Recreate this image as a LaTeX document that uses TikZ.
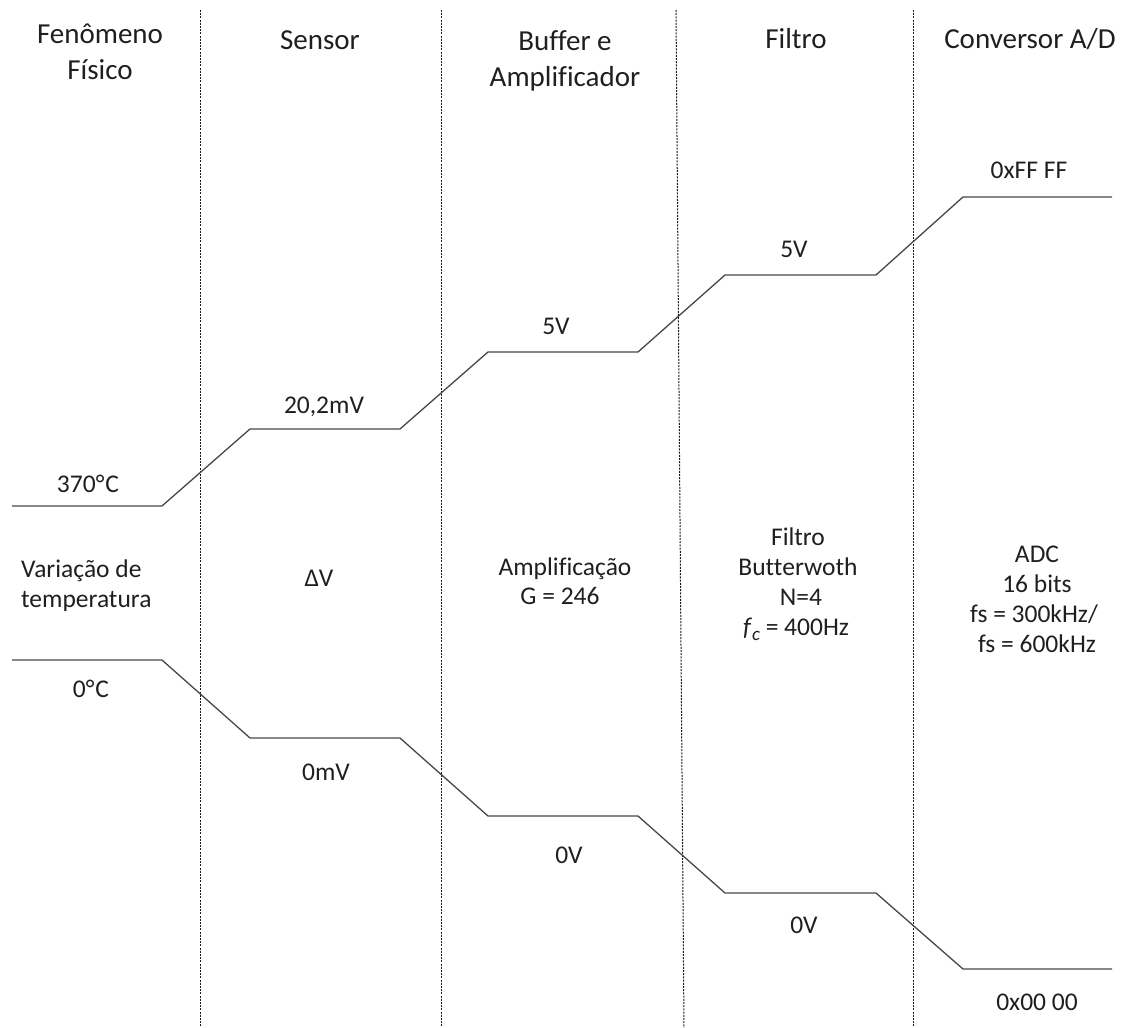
\documentclass[tikz,border=0pt]{standalone}
\usepackage{fontspec}
\setmainfont{Carlito}[Ligatures={TeX,NoCommon},Contextuals=NoAlternate]
\begin{document}
\begin{tikzpicture}[x=1pt,y=-1pt,
  stagesep/.style={draw=black!90,line width=1pt,dash pattern=on 2pt off 1.2pt},
  signal/.style={draw=black!72,line width=1.3pt,line join=miter},
  head/.style={anchor=base,inner sep=0pt,text=black!88,font=\fontsize{29}{36}\selectfont},
  lbl/.style={anchor=base,inner sep=0pt,text=black!88,font=\fontsize{25.5}{30}\selectfont},
  lbll/.style={lbl,anchor=base west}]
\useasboundingbox (0,0) rectangle (1128,1028);

% stage separators
\coordinate (s1t) at (200,10);  \coordinate (s1b) at (200,1028);
\coordinate (s2t) at (441,10);  \coordinate (s2b) at (441,1028);
\coordinate (s3t) at (676,10);  \coordinate (s3b) at (684,1028);
\coordinate (s4t) at (913,10);  \coordinate (s4b) at (913,1028);
\draw[stagesep] (s1t) -- (s1b);
\draw[stagesep] (s2t) -- (s2b);
\draw[stagesep] (s3t) -- (s3b);
\draw[stagesep] (s4t) -- (s4b);

% stage titles
\node[head] (h1a) at (100,43) {Fenômeno};
\node[head] (h1b) at (100,79) {Físico};
\node[head] (h2)  at (320,49) {Sensor};
\node[head] (h3a) at (565,50) {Buffer e};
\node[head] (h3b) at (565,86) {Amplificador};
\node[head] (h4)  at (796,48) {Filtro};
\node[head] (h5)  at (1030,48) {Conversor A/D};

% upper level of the signal
\coordinate (u0) at (12,506);   \coordinate (u1) at (162,506);
\coordinate (u2) at (250,429);  \coordinate (u3) at (400,429);
\coordinate (u4) at (488,352);  \coordinate (u5) at (638,352);
\coordinate (u6) at (725,275);  \coordinate (u7) at (876,275);
\coordinate (u8) at (963,197);  \coordinate (u9) at (1112,197);
\draw[signal] (u0) -- (u1) -- (u2) -- (u3) -- (u4) -- (u5) -- (u6) -- (u7) -- (u8) -- (u9);

% lower level of the signal
\coordinate (l0) at (12,660);   \coordinate (l1) at (162,660);
\coordinate (l2) at (250,738);  \coordinate (l3) at (400,738);
\coordinate (l4) at (488,816);  \coordinate (l5) at (638,816);
\coordinate (l6) at (725,893);  \coordinate (l7) at (876,893);
\coordinate (l8) at (963,969);  \coordinate (l9) at (1112,969);
\draw[signal] (l0) -- (l1) -- (l2) -- (l3) -- (l4) -- (l5) -- (l6) -- (l7) -- (l8) -- (l9);

% upper values
\node[lbl] (v1) at (88,492)   {370°\kern1pt C};
\node[lbl] (v2) at (324,413)  {20,2mV};
\node[lbl] (v3) at (556,334)  {5V};
\node[lbl] (v4) at (794,257)  {5V};
\node[lbl] (v5) at (1029,178) {0xFF FF};

% lower values
\node[lbl] (w1) at (91,697)   {0°\kern1pt C};
\node[lbl] (w2) at (326,780)  {0mV};
\node[lbl] (w3) at (569,863)  {0V};
\node[lbl] (w4) at (804,933)  {0V};
\node[lbl] (w5) at (1037,1010){0x00 00};

% stage descriptions
\node[lbll] (d1a) at (21,577) {Variação de};
\node[lbll] (d1b) at (21,607) {temperatura};
\node[lbl]  (d2)  at (319,586) {ΔV};
\node[lbl]  (d3a) at (565,575) {Amplificação};
\node[lbl]  (d3b) at (560,604) {G = 246};
\node[lbl]  (d4a) at (798,545) {Filtro};
\node[lbl]  (d4b) at (798,575) {Butt\kern0pt erwoth};
\node[lbl]  (d4c) at (801,605) {N=4};
\node[lbl]  (d4d) at (796,635) {\textit{f}\raisebox{-0.22em}{\fontsize{19}{20}\selectfont\textit{c}} = 400Hz};
\node[lbl]  (d5a) at (1037,562) {ADC};
\node[lbl]  (d5b) at (1037,592) {16 bits};
\node[lbl]  (d5c) at (1034,622) {fs = 300kHz/};
\node[lbl]  (d5d) at (1037,652) {fs = 600kHz};
\end{tikzpicture}
\end{document}
